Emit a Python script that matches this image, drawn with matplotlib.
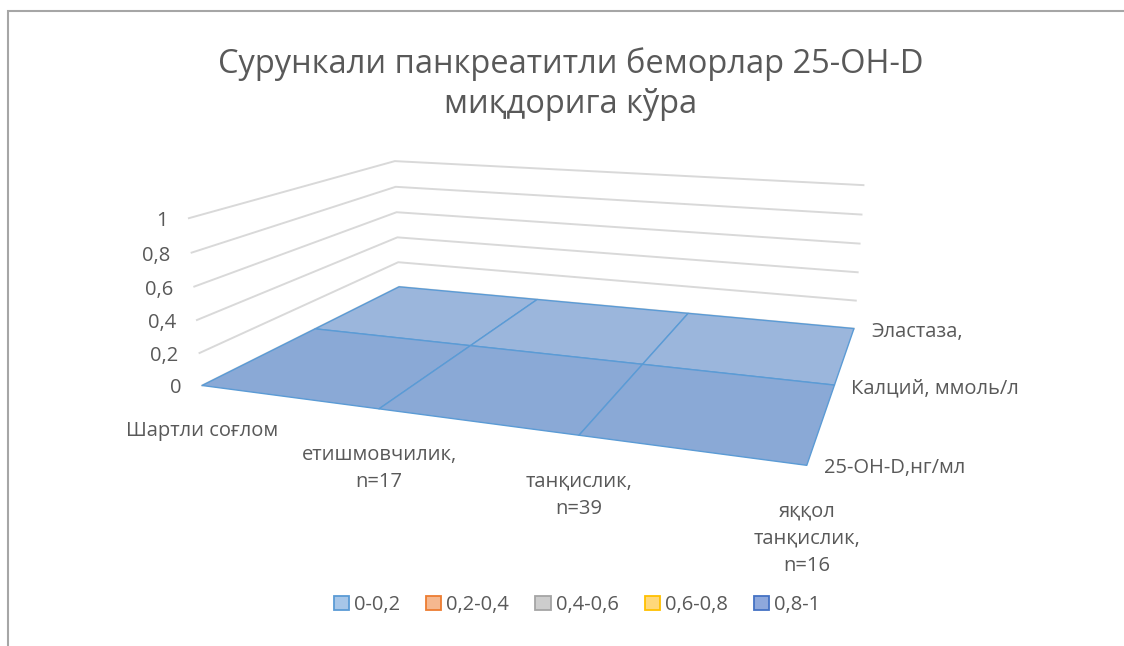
import numpy as np
import matplotlib.pyplot as plt
from matplotlib.patches import Patch, Rectangle
from mpl_toolkits.mplot3d import proj3d

plt.rcParams['font.family'] = ['Open Sans', 'DejaVu Sans']

# данные диаграммы (все значения нулевые)
categories = ['Шартли соғлом', 'етишмовчилик,\nn=17', 'танқислик,\nn=39',
              'яққол\nтанқислик,\nn=16']
series = ['25-OH-D,нг/мл', 'Калций, ммоль/л', 'Эластаза,']
values = [[0, 0, 0, 0],
          [0, 0, 0, 0],
          [0, 0, 0, 0]]
value_ticks = [0, 0.2, 0.4, 0.6, 0.8, 1]
tick_labels = ['0', '0,2', '0,4', '0,6', '0,8', '1']
bands = ['0-0,2', '0,2-0,4', '0,4-0,6', '0,6-0,8', '0,8-1']
band_fill = ['#a7c6e8', '#f5b88f', '#cdcdcd', '#ffd87a', '#8ea8dc']
band_edge = ['#5b9bd5', '#ed7d31', '#a5a5a5', '#ffc000', '#4472c4']
title = 'Сурункали панкреатитли беморлар 25-OH-D\nмиқдорига кўра'

txt = '#595959'
W, H = 1124, 646
S = 1124  # сторона квадратной 3d-области в пикселях

fig = plt.figure(figsize=(W / 100, H / 100), dpi=100)
ax = fig.add_axes([-23 / W, -210 / H, S / W, S / H], projection='3d')
ax.set_box_aspect((557, 399, 159), zoom=0.6075)
ax.set_proj_type('persp', focal_length=0.185)
ax.view_init(elev=13.8, azim=-70.4)
ax.computed_zorder = False
ax.set_axis_off()

ncat = len(categories)
nser = len(series)
ax.set_xlim(0, ncat - 1)
ax.set_ylim(0, nser - 1)
ax.set_zlim(0, 1)

# линии сетки на стенках
for z in value_ticks:
    ax.plot([0, 0, ncat - 1], [0, nser - 1, nser - 1], [z, z, z],
            color='#d9d9d9', lw=1.4, zorder=1)

X, Y = np.meshgrid(np.arange(ncat), np.arange(nser))
Z = np.array(values, dtype=float)
row_cols = ['#8aa9d6', '#9bb6dc', '#a4bcde']
fc = [[row_cols[j]] * ncat for j in range(nser)]
ax.plot_surface(X, Y, Z, facecolors=fc, edgecolor='#5b9bd5', linewidth=1.0,
                shade=False, rstride=1, cstride=1, zorder=2)

M = ax.get_proj()


def label(x, y, z, s, dx, dy, **kw):
    px, py, _ = proj3d.proj_transform(x, y, z, M)
    ax.annotate(s, (px, py), xycoords='data', xytext=(dx, dy),
                textcoords='offset pixels', fontsize=14.5, color=txt, **kw)


for z, s in zip(value_ticks, tick_labels):
    label(0, 0, z, s, -21, -3, ha='right', va='center')
for i, s in enumerate(categories):
    label(i, 0, 0, s, 0, -36, ha='center', va='top', linespacing=1.5)
for j, s in enumerate(series):
    label(ncat - 1, j, 0, s, 17, -3, ha='left', va='center')

fig.text(571 / W, 1 - 84 / H, title, ha='center', va='center', fontsize=23.5,
         color=txt, linespacing=1.3)

handles = [Patch(facecolor=f, edgecolor=e, lw=1.3)
           for f, e in zip(band_fill, band_edge)]
fig.legend(handles, bands, loc='center', bbox_to_anchor=(577 / W, 41 / H),
           ncol=5, frameon=False, fontsize=14.5, labelcolor=txt,
           handlelength=0.75, handleheight=0.75, handletextpad=0.25,
           columnspacing=1.3)

fig.patches.append(Rectangle((8 / W, -0.05), 1.1, 1 - 11 / H + 0.05,
                             transform=fig.transFigure, fill=False,
                             edgecolor='#a6a6a6', lw=1.5))

fig.savefig('out.png', dpi=100)
